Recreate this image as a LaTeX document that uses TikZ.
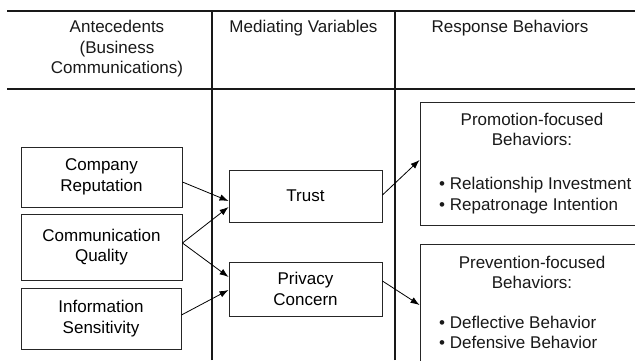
\documentclass[tikz,border=0pt]{standalone}
\usepackage{fontspec}
\setmainfont{Liberation Sans}
\usetikzlibrary{arrows.meta}
\tikzset{
  box/.style={draw=black!85, line width=0.9pt, inner sep=0pt, align=center, font=\fontsize{17}{20.5}\selectfont},
  txt/.style={inner sep=0pt, align=center, font=\fontsize{17}{20.5}\selectfont, text=black!90},
  rule/.style={line width=1.6pt, draw=black!90},
  conn/.style={line width=0.8pt, -{Latex[length=9pt,width=6.5pt]}}
}
\begin{document}
\begin{tikzpicture}[x=1pt,y=-1pt]
\fill[white] (0,0) rectangle (635,360);
\useasboundingbox (0,0) rectangle (635,360);
% table rules
\draw[rule] (212,360) -- (212,11) -- (7,11);
\draw[rule] (395,360) -- (395,11) -- (212,11);
\draw[rule] (395,11) -- (635,11);
\draw[rule] (7,89) -- (635,89);
% headers
\node[txt] (h1) at (117,49) {Antecedents\\(Business\\Communications)};
\node[txt] (h2) at (303.5,28) {Mediating Variables};
\node[txt] (h3) at (510,28) {Response Behaviors};
% antecedents
\node[box, minimum width=161pt, minimum height=60pt] (cr) at (101.5,177) {Company\\Reputation};
\node[box, minimum width=161pt, minimum height=66pt] (cq) at (101.5,247) {Communication\\Quality};
\node[box, minimum width=160pt, minimum height=61pt] (is) at (101,318.5) {Information\\Sensitivity};
% mediators
\node[box, minimum width=153pt, minimum height=52pt] (trust) at (305.5,196) {Trust};
\node[box, minimum width=153pt, minimum height=54pt] (pc) at (305.5,289) {Privacy\\Concern};
% responses
\node[box, minimum width=230pt, minimum height=123pt] (promo) at (535,163.5) {};
\node[box, minimum width=230pt, minimum height=131pt] (prev) at (535,309.5) {};
\node[txt] (promot) at (532,129.5) {Promotion-focused\\Behaviors:};
\node[txt, anchor=west, align=left] (promob) at (439,195.5) {• Relationship Investment\\• Repatronage Intention};
\node[txt] (prevt) at (532,272.5) {Prevention-focused\\Behaviors:};
\node[txt, anchor=west, align=left] (prevb) at (439,332.5) {• Deflective Behavior\\• Defensive Behavior};
% connectors
\draw[conn] ([yshift=-5pt]cr.east) -- ([yshift=-5pt]trust.west);
\draw[conn] ([yshift=4pt]cq.east) -- ([yshift=-11pt]trust.west);
\draw[conn] ([yshift=4pt]cq.east) -- ([yshift=12pt]pc.west);
\draw[conn] ([yshift=3.5pt]is.east) -- ([yshift=-1pt]pc.west);
\draw[conn] ([yshift=1pt]trust.east) -- ([yshift=3.5pt]promo.west);
\draw[conn] ([yshift=8pt]pc.east) -- ([yshift=4.5pt]prev.west);
\end{tikzpicture}
\end{document}
